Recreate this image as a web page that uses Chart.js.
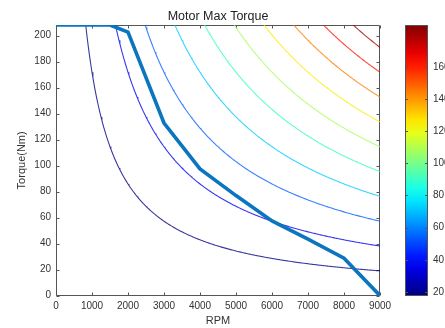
<!DOCTYPE html>
<html><head><meta charset="utf-8">
<script src="https://cdn.jsdelivr.net/npm/chart.js@4.4.0/dist/chart.umd.min.js"></script>
<style>html,body{margin:0;padding:0;background:#fff;overflow:hidden}</style>
</head><body>
<canvas id="c" width="445" height="328"></canvas>
<script>
// ---- data ----
const rpmPoints = [0, 1500, 2000, 3000, 4000, 5000, 6000, 7000, 8000, 9000];
const maxTorque = [208.2, 208.2, 202.8, 132.8, 97.5, 77, 57.5, 43.5, 28.8, 0];
const contourLevelsKW = [18, 36, 54, 72, 90, 108, 126, 144, 162, 180];
const xTicks = [0, 1000, 2000, 3000, 4000, 5000, 6000, 7000, 8000, 9000];
const yTicks = [0, 20, 40, 60, 80, 100, 120, 140, 160, 180, 200];
const colorbarTicks = [20, 40, 60, 80, 100, 120, 140, 160];
const colorbarRange = [17.5, 186];
const torqueMax = 208.2;

const FONT = "'Liberation Sans', Arial, Helvetica, sans-serif";
const TXT = '#333333';
const AX = '#555555';

function clamp(v){ return Math.max(0, Math.min(1, v)); }
function jetRGB(t){
  return [clamp(1.5 - Math.abs(4*t - 3)), clamp(1.5 - Math.abs(4*t - 2)), clamp(1.5 - Math.abs(4*t - 1))]
    .map(c => Math.round(c * 255));
}
function jet(t, a){
  const [r, g, b] = jetRGB(t);
  return a === undefined ? `rgb(${r},${g},${b})` : `rgba(${r},${g},${b},${a})`;
}

// iso-power contours: torque = P / omega  (P in kW)
const contourRpm = [];
for (let r = 300; r <= 9000; r += 25) contourRpm.push(r);
const contourSets = contourLevelsKW.map((p) => ({
  label: 'P=' + p + 'kW',
  data: contourRpm.map(r => ({x: r, y: p * 60000 / (2 * Math.PI * r)})),
  borderColor: jet((p - colorbarRange[0]) / (colorbarRange[1] - colorbarRange[0]), 0.78),
  borderWidth: 1.1,
  pointRadius: 0,
  tension: 0,
  order: 1
}));

const maxSet = {
  label: 'Max Torque',
  data: rpmPoints.map((r, i) => ({x: r, y: maxTorque[i]})),
  borderColor: '#0b76bf',
  borderWidth: 3.6,
  pointRadius: 0,
  tension: 0,
  order: 0
};

const decor = {
  id: 'decor',
  beforeDatasetsDraw(chart){
    const {ctx, chartArea: a, scales: {x, y}} = chart;
    ctx.save();
    ctx.strokeStyle = AX; ctx.lineWidth = 1;
    const L = Math.round(a.left) + 0.5, R = Math.round(a.right) - 0.5;
    const T = Math.round(a.top) + 0.5, B = Math.round(a.bottom) - 0.5;
    ctx.beginPath();
    ctx.moveTo(L, T); ctx.lineTo(R, T); ctx.lineTo(R, B); ctx.lineTo(L, B); ctx.closePath();
    xTicks.forEach(v => {
      const px = Math.round(x.getPixelForValue(v)) + 0.5;
      ctx.moveTo(px, B); ctx.lineTo(px, B - 3);
      ctx.moveTo(px, T); ctx.lineTo(px, T + 3);
    });
    yTicks.forEach(v => {
      const py = Math.round(y.getPixelForValue(v)) + 0.5;
      ctx.moveTo(L, py); ctx.lineTo(L + 3, py);
      ctx.moveTo(R, py); ctx.lineTo(R - 3, py);
    });
    ctx.stroke();
    ctx.restore();
  },
  afterDraw(chart){
    const {ctx, chartArea: a} = chart;
    const cbL = 405, cbR = 428, cbT = Math.round(a.top), cbB = Math.round(a.bottom);
    const [mn, mx] = colorbarRange;
    ctx.save();
    const g = ctx.createLinearGradient(0, cbB, 0, cbT);
    for (let i = 0; i <= 20; i++) g.addColorStop(i/20, jet(i/20));
    ctx.fillStyle = g;
    ctx.fillRect(cbL, cbT, cbR - cbL, cbB - cbT);
    ctx.strokeStyle = AX; ctx.lineWidth = 1;
    ctx.strokeRect(cbL + 0.5, cbT + 0.5, cbR - cbL - 1, cbB - cbT - 1);
    ctx.font = '10px ' + FONT;
    ctx.fillStyle = TXT;
    ctx.textAlign = 'left'; ctx.textBaseline = 'middle';
    colorbarTicks.forEach(v => {
      const py = cbB - (v - mn) / (mx - mn) * (cbB - cbT);
      const yy = Math.round(py) + 0.5;
      ctx.beginPath();
      ctx.moveTo(cbR - 0.5, yy); ctx.lineTo(cbR - 3, yy);
      ctx.moveTo(cbL + 0.5, yy); ctx.lineTo(cbL + 3, yy);
      ctx.stroke();
      ctx.fillText(String(v), 433, py);
    });
    ctx.restore();
  }
};

new Chart(document.getElementById('c'), {
  type: 'line',
  data: { datasets: [maxSet, ...contourSets] },
  options: {
    responsive: false,
    animation: false,
    devicePixelRatio: 1,
    layout: { padding: { left: 0, right: 9, top: 0, bottom: 0 } },
    plugins: {
      legend: { display: false },
      tooltip: { enabled: false },
      title: {
        display: true, text: 'Motor Max Torque', color: '#222',
        font: { family: FONT, size: 12.5, weight: 'normal', lineHeight: 1.2 },
        padding: { top: 8.7, bottom: 1.3 }
      }
    },
    scales: {
      x: {
        type: 'linear', min: 0, max: 9000,
        afterBuildTicks: s => { s.ticks = xTicks.map(v => ({value: v})); },
        afterFit: s => { s.height = 32.3; },
        ticks: { font: { family: FONT, size: 10 }, color: TXT, padding: 5, maxRotation: 0, autoSkip: false,
                 callback: v => String(v) },
        grid: { display: false, drawTicks: false },
        border: { display: false },
        title: { display: true, text: 'RPM', color: TXT, font: { family: FONT, size: 11 }, padding: 0 }
      },
      y: {
        type: 'linear', min: 0, max: torqueMax,
        afterBuildTicks: s => { s.ticks = yTicks.map(v => ({value: v})); },
        afterFit: s => { s.width = 56; },
        ticks: { font: { family: FONT, size: 10 }, color: TXT, padding: 5, autoSkip: false,
                 callback: v => String(v) },
        grid: { display: false, drawTicks: false },
        border: { display: false },
        title: { display: true, text: 'Torque(Nm)', color: TXT, font: { family: FONT, size: 11 }, padding: { top: 15, bottom: 0 } }
      },
      cbSpace: {
        type: 'linear', position: 'right', display: true, min: 0, max: 1,
        afterFit: s => { s.width = 56; },
        ticks: { display: false },
        grid: { display: false, drawTicks: false },
        border: { display: false }
      }
    }
  },
  plugins: [decor]
});
</script>
</body></html>
